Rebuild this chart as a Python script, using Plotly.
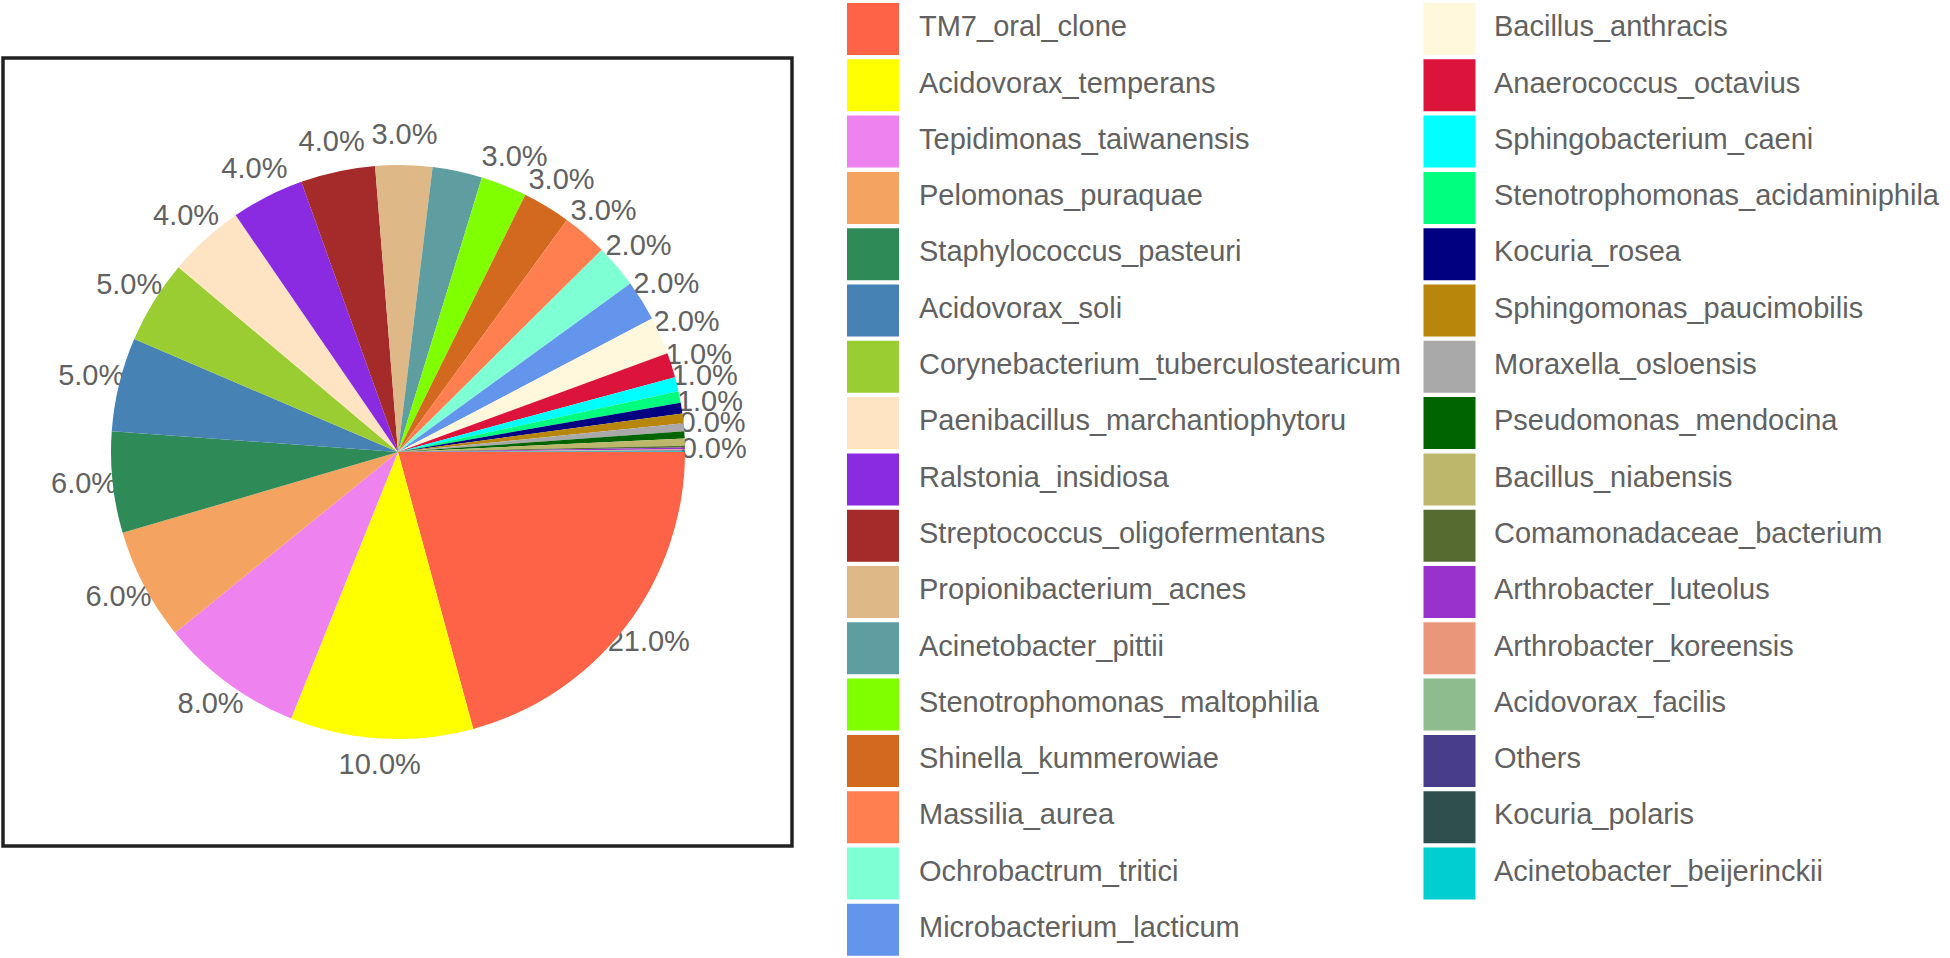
import plotly.graph_objects as go

# taxa, in the order of the pie (clockwise from 3 o'clock) and of the legend
taxa = [
    "TM7_oral_clone", "Acidovorax_temperans", "Tepidimonas_taiwanensis",
    "Pelomonas_puraquae", "Staphylococcus_pasteuri", "Acidovorax_soli",
    "Corynebacterium_tuberculostearicum", "Paenibacillus_marchantiophytoru",
    "Ralstonia_insidiosa", "Streptococcus_oligofermentans",
    "Propionibacterium_acnes", "Acinetobacter_pittii",
    "Stenotrophomonas_maltophilia", "Shinella_kummerowiae", "Massilia_aurea",
    "Ochrobactrum_tritici", "Microbacterium_lacticum", "Bacillus_anthracis",
    "Anaerococcus_octavius", "Sphingobacterium_caeni",
    "Stenotrophomonas_acidaminiphila", "Kocuria_rosea",
    "Sphingomonas_paucimobilis", "Moraxella_osloensis",
    "Pseudomonas_mendocina", "Bacillus_niabensis", "Comamonadaceae_bacterium",
    "Arthrobacter_luteolus", "Arthrobacter_koreensis", "Acidovorax_facilis",
    "Others", "Kocuria_polaris", "Acinetobacter_beijerinckii",
]

# relative abundance (%)
abundance = [
    20.8, 10.3, 8.1, 6.3, 5.7, 5.3, 4.7, 4.3, 4.1, 4.2,
    3.2, 2.8, 2.6, 2.7, 2.55, 2.45, 2.3, 2.1, 1.4, 0.8,
    0.65, 0.6, 0.55, 0.45, 0.4, 0.4, 0.1, 0.1, 0.03, 0.03,
    0.03, 0.03, 0.03,
]

# labels as printed next to the slices ("" where the picture shows none)
pct_text = [
    "21.0%", "10.0%", "8.0%", "6.0%", "6.0%", "5.0%", "5.0%", "4.0%", "4.0%", "4.0%",
    "3.0%", "", "3.0%", "3.0%", "3.0%", "2.0%", "2.0%", "2.0%", "1.0%", "1.0%",
    "", "1.0%", "", "0.0%", "", "", "", "", "", "",
    "0.0%", "", "",
]

colors = [
    "tomato", "yellow", "violet", "sandybrown", "seagreen", "steelblue",
    "yellowgreen", "bisque", "blueviolet", "brown", "burlywood", "cadetblue",
    "chartreuse", "chocolate", "coral", "aquamarine", "cornflowerblue",
    "cornsilk", "crimson", "cyan", "springgreen", "navy", "darkgoldenrod",
    "darkgray", "darkgreen", "darkkhaki", "darkolivegreen", "darkorchid",
    "darksalmon", "darkseagreen", "darkslateblue", "darkslategray",
    "darkturquoise",
]

W, H = 1950, 958
FONT = "Liberation Sans, Arial, sans-serif"
GREY = "#616161"

# pie: centre (398, 452), radius 287 px
cx, cy, r = 398, 452, 287


def square_domain(rad):
    return dict(x=[(cx - rad) / W, (cx + rad) / W],
                y=[(H - cy - rad) / H, (H - cy + rad) / H])


fig = go.Figure()
fig.add_trace(go.Pie(
    labels=taxa, values=abundance, sort=False, direction="clockwise",
    rotation=90, domain=square_domain(r), textinfo="none", showlegend=False,
    marker=dict(colors=colors, line=dict(width=0)),
    hoverinfo="label+percent",
))

# percentage labels centred at 1.1 x radius on each slice's mid angle
total = sum(abundance)
mid_deg = []
acc = 0.0
for v in abundance:
    mid_deg.append(360.0 * (acc + v / 2) / total)
    acc += v

# polar overlay, radial unit = pie radius
r_max = 1.25
fig.add_trace(go.Scatterpolar(
    r=[1.1] * len(taxa), theta=mid_deg, mode="text", text=pct_text,
    textposition="middle center", subplot="polar",
    textfont=dict(family=FONT, size=29, color=GREY),
    hoverinfo="skip", showlegend=False,
))

# hand-made legend: two columns of big swatches
rows_per_col = 17
pitch = 56.3
sw_x = [873, 1449.5]
txt_x = [919, 1494]
lx, ly, tx = [], [], []
for i, name in enumerate(taxa):
    col, row = divmod(i, rows_per_col)
    lx.append(sw_x[col])
    tx.append(txt_x[col])
    ly.append(29 + pitch * row)

fig.add_trace(go.Scatter(
    x=lx, y=ly, mode="markers", xaxis="x2", yaxis="y2",
    marker=dict(symbol="square", size=52, color=colors, line=dict(width=0)),
    hoverinfo="skip", showlegend=False,
))
fig.add_trace(go.Scatter(
    x=tx, y=ly, mode="text", text=taxa, textposition="middle right",
    xaxis="x2", yaxis="y2", cliponaxis=False,
    textfont=dict(family=FONT, size=29, color=GREY),
    hoverinfo="skip", showlegend=False,
))

fig.update_layout(
    width=W, height=H, margin=dict(l=0, r=0, t=0, b=0, autoexpand=False),
    paper_bgcolor="white", plot_bgcolor="rgba(0,0,0,0)",
    font=dict(family=FONT, color=GREY),
    polar=dict(
        domain=square_domain(r * r_max), bgcolor="rgba(0,0,0,0)", hole=0,
        radialaxis=dict(range=[0, r_max], visible=False),
        angularaxis=dict(direction="clockwise", rotation=0, visible=False),
    ),
    xaxis2=dict(domain=[0, 1], range=[0, W], visible=False, fixedrange=True,
                anchor="y2"),
    yaxis2=dict(domain=[0, 1], range=[H, 0], visible=False, fixedrange=True,
                anchor="x2"),
)

# frame around the pie
fig.add_shape(type="rect", xref="paper", yref="paper",
              x0=3 / W, x1=792 / W, y0=(H - 846) / H, y1=(H - 58) / H,
              line=dict(color="#222222", width=3.5))

fig.write_html("out.html", config={"displayModeBar": False},
               post_script="document.body.style.margin='0px';")
